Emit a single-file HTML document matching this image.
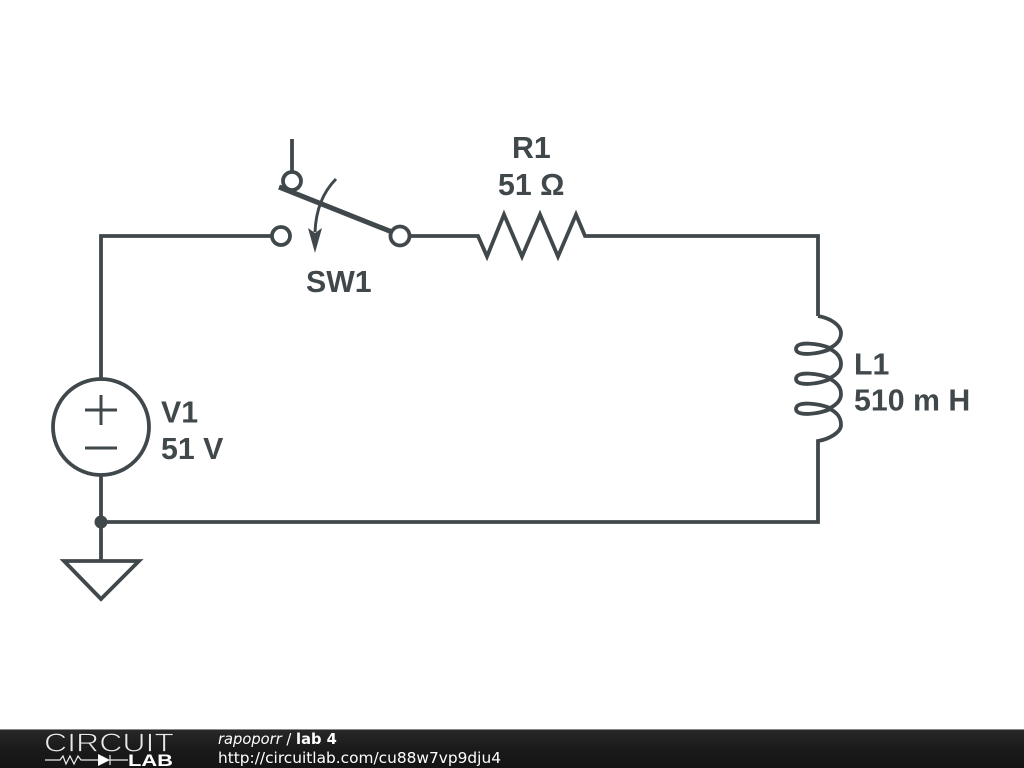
<!DOCTYPE html>
<html><head><meta charset="utf-8"><style>
html,body{margin:0;padding:0;background:#fff;width:1024px;height:768px;overflow:hidden}
svg{display:block}
</style></head><body>
<svg width="1024" height="768" viewBox="0 0 1024 768" xmlns="http://www.w3.org/2000/svg">
<defs><linearGradient id="g" x1="0" y1="0" x2="0" y2="1"><stop offset="0" stop-color="#282828"/><stop offset="0.5" stop-color="#1a1a1a"/><stop offset="1" stop-color="#141414"/></linearGradient></defs>
<rect width="1024" height="768" fill="#fff"/>
<g fill="none" stroke="#40484c" stroke-width="3.8" stroke-linejoin="miter">
<path d="M101 378V236H271"/>
<path d="M411 236H478L487 256.5L504 214.5L522 256.5L540 214.5L558 256.5L576 214.5L585 236H818V316"/>
<path d="M818 316C830 318 841 325 841 333C841 340 836 345 830 348C820 344 796 340 796 349C796 357 820 354 830 349C838 353 841 358 841 364C841 371 836 375 830 378C820 374 796 370 796 379C796 387 820 384 830 379C838 383 841 388 841 394C841 401 836 405 830 408C820 404 796 400 796 409C796 417 820 414 830 409C838 413 841 418 841 425C841 432 830 439 818 441V522H101"/>
<path d="M101 476V560"/>
<path d="M64 561H139L101 599Z"/>
<circle cx="101" cy="427" r="48"/>
<path d="M85 410H117M101 395V425M85 448H117" stroke-width="3"/>
<path d="M292 139V172"/>
<circle cx="281" cy="236" r="9"/>
<circle cx="292" cy="181" r="9"/>
<path d="M279 187L392 232" stroke-width="5"/>
<circle cx="400" cy="236" r="9.5"/>
<path d="M336 179C324 191 316 208 315 232" stroke-width="3"/>
</g>
<path d="M308 228L315 253L322 228L315 233Z" fill="#40484c"/>
<circle cx="101" cy="522" r="6.5" fill="#40484c"/>
<g font-family="'Liberation Sans',sans-serif" font-weight="700" font-size="30.3" fill="#40484c">
<text x="512" y="158">R1</text>
<text x="498" y="195">51 Ω</text>
<text x="306" y="292">SW1</text>
<text x="161" y="422.5">V1</text>
<text x="161" y="459">51 V</text>
<text x="854" y="374.5">L1</text>
<text x="854" y="410.5">510 m H</text>
</g>
<rect y="729" width="1024" height="1" fill="#8a8a8a"/>
<rect y="730" width="1024" height="38" fill="url(#g)"/>
<text x="44" y="751.5" font-family="'Liberation Sans',sans-serif" font-size="26" fill="#e8e8e8" stroke="#1c1c1c" stroke-width="0.8" textLength="130" lengthAdjust="spacingAndGlyphs">CIRCUIT</text>
<path d="M45 760H60L63 756L66 764L70 756L74 764L78 756L81 760H98M110 760H128M110 755V765" fill="none" stroke="#eee" stroke-width="1.2"/>
<path d="M98 754L110 760L98 766Z" fill="#fff"/>
<text x="128" y="766" font-family="'Liberation Sans',sans-serif" font-weight="700" font-size="17" fill="#fff" textLength="45" lengthAdjust="spacingAndGlyphs">LAB</text>
<g font-family="'DejaVu Sans',sans-serif" fill="#fff" font-size="14.7">
<text x="218" y="744"><tspan font-style="italic">rapoporr</tspan> / <tspan font-weight="700">lab 4</tspan></text>
<text x="218" y="763" font-size="15" textLength="283" lengthAdjust="spacingAndGlyphs">http://circuitlab.com/cu88w7vp9dju4</text>
</g>
</svg>
</body></html>
